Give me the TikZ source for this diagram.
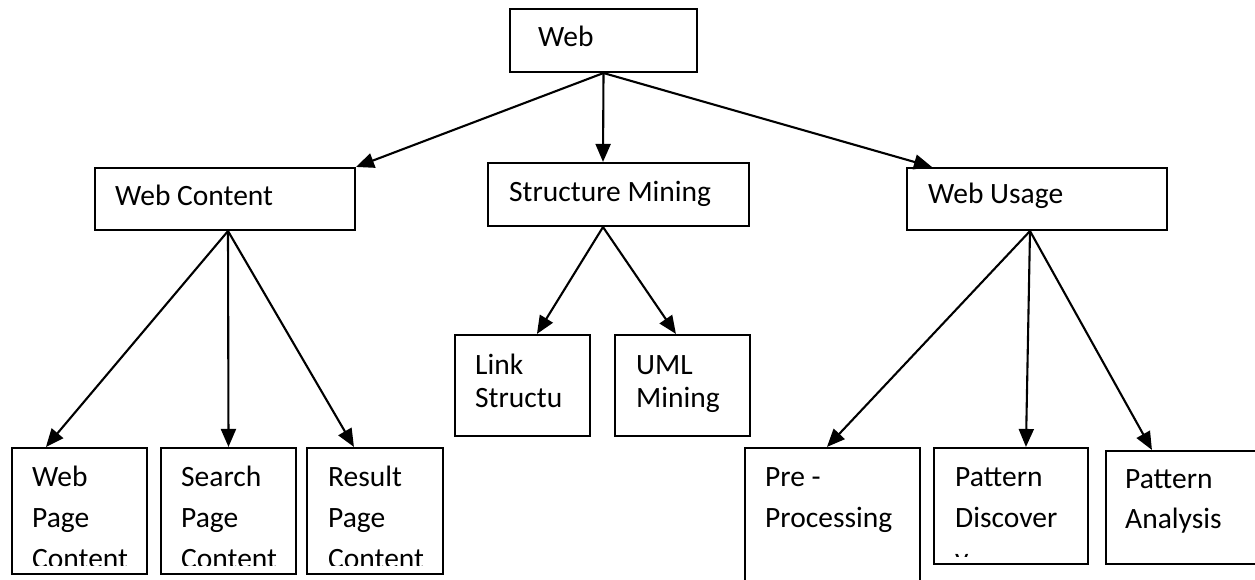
\documentclass[tikz,border=0pt]{standalone}
\usepackage{fontspec}
\setmainfont{Carlito}
\usetikzlibrary{arrows.meta}
\begin{document}
\begin{tikzpicture}[x=1pt,y=-1pt,
  box/.style={draw,line width=2.1pt,inner sep=0pt},
  lbl/.style={anchor=base west,inner sep=0pt,align=left,font=\fontsize{29.5}{41}\selectfont},
  lblx/.style={lbl,font=\fontsize{29.5}{33}\selectfont},
  arr/.style={line width=2.1pt,-{Triangle[length=18pt,width=15pt]}}]
\useasboundingbox[fill=white] (0,0) rectangle (1255,580);
% boxes
\node[box,minimum width=187pt,minimum height=63pt] (web) at (603.5,40.5) {};
\node[box,minimum width=260pt,minimum height=62pt] (wc) at (225,199) {};
\node[box,minimum width=261pt,minimum height=63pt] (sm) at (618.5,194.5) {};
\node[box,minimum width=260pt,minimum height=62pt] (wu) at (1037,199) {};
\node[box,minimum width=135pt,minimum height=126pt] (b1) at (79.5,511) {};
\node[box,minimum width=135pt,minimum height=126pt] (b2) at (228.5,511) {};
\node[box,minimum width=136pt,minimum height=126pt] (b3) at (375,511) {};
\node[box,minimum width=135pt,minimum height=101pt] (link) at (522.5,385.5) {};
\node[box,minimum width=135pt,minimum height=101pt] (uml) at (682.5,385.5) {};
\node[box,minimum width=175pt,minimum height=152pt] (pre) at (832.5,524) {};
\node[box,minimum width=154pt,minimum height=116pt] (pd) at (1011,506) {};
\node[box,minimum width=174pt,minimum height=113pt] (pa) at (1193,507.5) {};
% labels (base anchor = baseline of the last line)
\node[lbl] (webt) at (538,47) {Web};
\node[lbl] (wct) at (115,205) {Web Content};
\node[lbl] (smt) at (509,202) {Structure Mining};
\node[lbl] (wut) at (928,204) {Web Usage};
\begin{scope}
\clip (0,440) rectangle (460,565);
\node[lbl] (b1t) at (32,568) {Web\\Page\\Content};
\node[lbl] (b2t) at (181,568) {Search\\Page\\Content};
\node[lbl] (b3t) at (328,568) {Result\\Page\\Content};
\end{scope}
\node[lblx] (linkt) at (475,407) {Link\\Structu};
\node[lblx] (umlt) at (636,407) {UML\\Mining};
\node[lbl] (pret) at (765,527) {Pre -\\Processing};
\begin{scope}
\clip (940,450) rectangle (1085,556);
\node[lbl] (pdt) at (955,568) {Pattern\\Discover\\y};
\end{scope}
\node[lbl,font=\fontsize{29.5}{40}\selectfont] (pat) at (1125,528) {Pattern\\Analysis};
% connectors
\draw[arr] (web.south) -- (wc.north east);
\draw[arr] (web.south) -- ([xshift=-15.5pt]sm.north);
\draw[arr] (web.south) -- ([xshift=26pt]wu.north west);
\coordinate (wco) at ([xshift=3pt]wc.south);
\draw[arr] (wco) -- ([xshift=35pt]b1.north west);
\draw[arr] (wco) -- (b2.north);
\draw[arr] (wco) -- ([xshift=48pt]b3.north west);
\coordinate (smo) at ([xshift=-15.5pt]sm.south);
\draw[arr] (smo) -- ([xshift=83pt]link.north west);
\draw[arr] (smo) -- ([xshift=62pt]uml.north west);
\coordinate (wuo) at ([xshift=-7pt]wu.south);
\draw[arr] (wuo) -- ([xshift=83pt]pre.north west);
\draw[arr] (wuo) -- ([xshift=93pt]pd.north west);
\draw[arr] (wuo) -- ([xshift=47pt]pa.north west);
\end{tikzpicture}
\end{document}
